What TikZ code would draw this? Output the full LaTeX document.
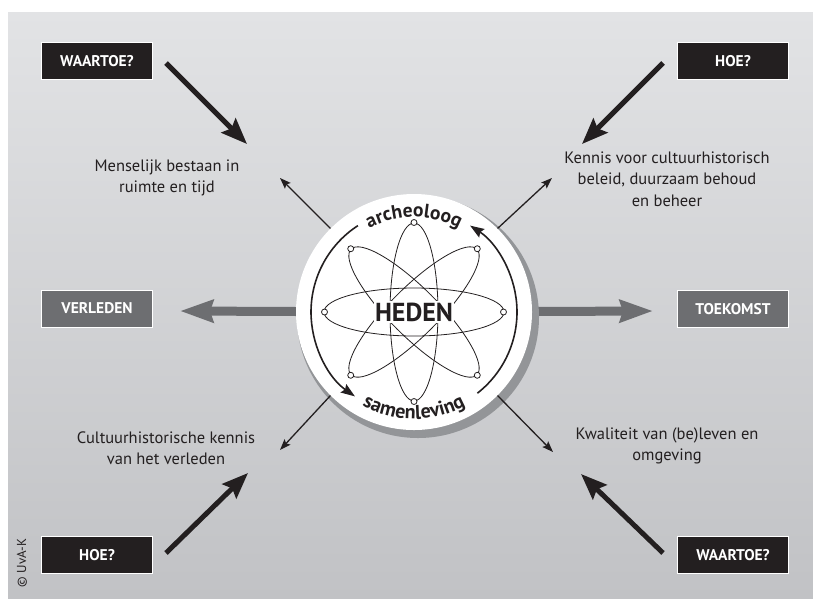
\documentclass[tikz,border=0pt]{standalone}
\usepackage{fontspec}
\setmainfont{PT Sans}
\usetikzlibrary{arrows.meta,decorations.text}
\definecolor{dark}{HTML}{231F20}
\definecolor{midgray}{HTML}{6D6E71}
\definecolor{ringgray}{HTML}{939598}
\definecolor{bgtop}{HTML}{E2E3E5}
\definecolor{bgbot}{HTML}{C1C2C5}
\begin{document}
\begin{tikzpicture}[x=1pt,y=-1pt,
  darkbox/.style={fill=dark, draw=white, line width=0.8pt, minimum width=111pt, minimum height=37pt, text=white, font=\bfseries\fontsize{15.5}{17}\selectfont, inner sep=0pt},
  graybox/.style={darkbox, fill=midgray},
  desc/.style={align=center, font=\fontsize{16.5}{21.5}\selectfont, text=dark},
  bigarrow/.style={-{Stealth[length=26pt,width=20pt,inset=4pt]}, line width=5pt, draw=dark},
  thinarrow/.style={-{Stealth[length=11pt,width=8pt,inset=2pt]}, line width=1.3pt, draw=dark},
  timearrow/.style={-{Stealth[length=33pt,width=22pt,inset=3pt]}, line width=9pt, draw=midgray},
  orbit/.style={draw=dark, line width=0.8pt},
  dot/.style={draw=dark, fill=white, line width=0.8pt},
  ringarrow/.style={draw=dark, line width=1.6pt, -{Stealth[length=14pt,width=10pt,inset=2pt]}}
]
\useasboundingbox (0,0) rectangle (813,598);
\shade[top color=bgtop, bottom color=bgbot] (8,12) rectangle (813,598);

% boxes
\node[darkbox] (w1) at (97,61) {WAARTOE?};
\node[darkbox] (h1) at (733,61) {HOE?};
\node[graybox] (verleden) at (97,308.5) {VERLEDEN};
\node[graybox] (toekomst) at (733,309) {TOEKOMST};
\node[darkbox] (h2) at (97,555) {HOE?};
\node[darkbox] (w2) at (733,555) {WAARTOE?};

% centre
\coordinate (cc) at (414,312);
\coordinate (vtip) at (180,311);
\coordinate (ttip) at (653,311);
\draw[timearrow] (cc) -- (vtip);
\draw[timearrow] (cc) -- (ttip);
\fill[ringgray] (418,317) circle (121pt);
\node[circle, fill=white, minimum size=236pt, inner sep=0pt] (c) at (cc) {};

% atom
\draw[orbit] (cc) ellipse [x radius=90pt, y radius=24pt];
\draw[orbit] (cc) ellipse [x radius=24pt, y radius=89pt];
\draw[orbit, rotate around={45:(cc)}] (cc) ellipse [x radius=89pt, y radius=24pt];
\draw[orbit, rotate around={-45:(cc)}] (cc) ellipse [x radius=89pt, y radius=24pt];
\foreach \a in {0,45,...,315} \draw[dot] ([shift={(\a:89.5pt)}]cc) circle (3pt);
\node[fill=white, inner sep=1.5pt, text=dark, font=\bfseries\fontsize{26}{26}\selectfont] (heden) at (cc) {HEDEN};

\begin{scope}[shift={(cc)}, x=1pt, y=1pt]
  \draw[ringarrow] (123:103) arc[start angle=123, end angle=235, radius=103];
  \draw[ringarrow] (-52:103) arc[start angle=-52, end angle=57, radius=103];
  \path[decorate, decoration={text along path, text align=center, text color=dark,
    text={|\bfseries\fontsize{19.5}{19.5}\selectfont|archeoloog}}]
    (125:95) arc[start angle=125, end angle=55, radius=95];
  \path[decorate, decoration={text along path, text align=center, text color=dark,
    text={|\bfseries\fontsize{20}{20}\selectfont|samenleving}}]
    (230:107) arc[start angle=230, end angle=310, radius=107];
\end{scope}

% thin arrows
\coordinate (a1) at (280,178);
\coordinate (a2) at (552,178);
\coordinate (a3) at (280,450);
\coordinate (a4) at (553,452);
\draw[thinarrow] (c.135) -- (a1);
\draw[thinarrow] (c.45) -- (a2);
\draw[thinarrow] (c.225) -- (a3);
\draw[thinarrow] (c.315) -- (a4);

% thick arrows
\coordinate (b1s) at (166,63);  \coordinate (b1e) at (247,144);
\coordinate (b2s) at (663,63);  \coordinate (b2e) at (582,144);
\coordinate (b3s) at (166,553); \coordinate (b3e) at (248,473);
\coordinate (b4s) at (663,553); \coordinate (b4e) at (581,474);
\draw[bigarrow] (b1s) -- (b1e);
\draw[bigarrow] (b2s) -- (b2e);
\draw[bigarrow] (b3s) -- (b3e);
\draw[bigarrow] (b4s) -- (b4e);

% texts
\node[desc] (t1) at (167,178) {Menselijk bestaan in\\ruimte en tijd};
\node[desc] (t2) at (667,179) {Kennis voor cultuurhistorisch\\beleid, duurzaam behoud\\en beheer};
\node[desc] (t3) at (166,448) {Cultuurhistorische kennis\\van het verleden};
\node[desc] (t4) at (667,446) {Kwaliteit van (be)leven en\\omgeving};

\node[rotate=90, text=dark, font=\fontsize{13}{14}\selectfont] (copy) at (22,563) {© UvA-K};
\end{tikzpicture}
\end{document}
